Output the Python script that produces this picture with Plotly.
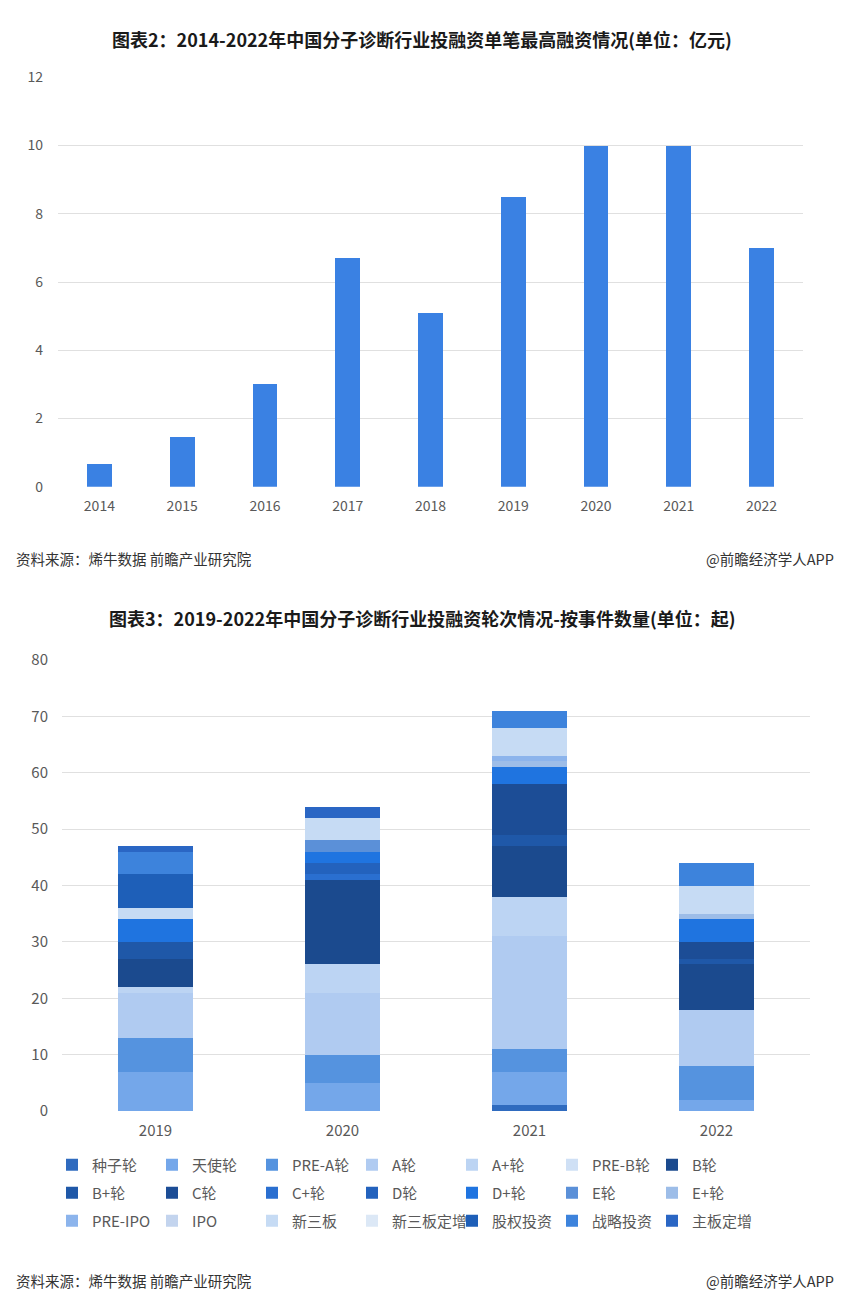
import plotly.graph_objects as go

# ---------------- data ----------------
years1 = ["2014", "2015", "2016", "2017", "2018", "2019", "2020", "2021", "2022"]
max_single = [0.66, 1.45, 3.0, 6.7, 5.1, 8.5, 10, 10, 7.0]

years2 = ["2019", "2020", "2021", "2022"]
rounds = ["种子轮", "天使轮", "PRE-A轮", "A轮", "A+轮", "PRE-B轮", "B轮",
          "B+轮", "C轮", "C+轮", "D轮", "D+轮", "E轮", "E+轮",
          "PRE-IPO", "IPO", "新三板", "新三板定增", "股权投资", "战略投资", "主板定增"]
seed = [0, 0, 1, 0]
angel = [7, 5, 6, 2]
pre_a = [6, 5, 4, 6]
a_round = [8, 11, 20, 10]
a_plus = [1, 5, 7, 0]
pre_b = [0, 0, 0, 0]
b_round = [5, 15, 9, 8]
b_plus = [3, 0, 2, 1]
c_round = [0, 0, 9, 3]
c_plus = [0, 1, 0, 0]
d_round = [0, 2, 0, 0]
d_plus = [4, 2, 3, 4]
e_round = [0, 2, 0, 0]
e_plus = [0, 0, 1, 1]
pre_ipo = [0, 0, 1, 0]
ipo = [0, 0, 0, 0]
neeq = [2, 4, 5, 5]
neeq_private = [0, 0, 0, 0]
equity = [6, 0, 0, 0]
strategic = [4, 0, 3, 4]
main_board = [1, 2, 0, 0]
round_values = [seed, angel, pre_a, a_round, a_plus, pre_b, b_round, b_plus,
                c_round, c_plus, d_round, d_plus, e_round, e_plus, pre_ipo,
                ipo, neeq, neeq_private, equity, strategic, main_board]

# ---------------- styles ----------------
bar1_color = "#3a81e3"
round_colors = ["#2f6bbf", "#74a7ea", "#5593df", "#b0cbf1", "#bcd4f3", "#cfe0f5",
                "#1b4a8e", "#1f58a8", "#1c4d96", "#2a6fd0", "#2362bd", "#1f74e0",
                "#5b90d8", "#9dbde8", "#8cb4ec", "#c3d4ee", "#c6dbf4", "#dce8f6",
                "#1e5fb8", "#3d83dc", "#2a66c4"]

W, H = 850, 1308
ML, MR = 40, 40
PW = W - ML - MR
FONT = "Noto Sans CJK SC"
TICK = "#595959"
GRID = "#e0e0e0"


def px(x):
    return (x - ML) / PW


def py(y):
    return 1 - y / H


fig = go.Figure()

fig.add_trace(go.Bar(
    x=years1, y=max_single, marker=dict(color=bar1_color, line=dict(width=0)),
    width=0.30, xaxis="x", yaxis="y", showlegend=False,
))

legend_ids = ["legend", "legend2", "legend3"]
for i, (name, vals, col) in enumerate(zip(rounds, round_values, round_colors)):
    fig.add_trace(go.Bar(
        x=years2, y=vals, name=name, width=0.40,
        marker=dict(color=col, line=dict(width=0)),
        xaxis="x2", yaxis="y2", legend=legend_ids[i // 7],
    ))

legend_style = dict(orientation="h", x=px(52), xanchor="left", yanchor="middle",
                    traceorder="normal", entrywidth=55, entrywidthmode="pixels",
                    font=dict(size=15, color=TICK, family=FONT),
                    itemclick=False, itemdoubleclick=False,
                    bgcolor="rgba(0,0,0,0)", borderwidth=0)

fig.update_layout(
    width=W, height=H,
    margin=dict(l=ML, r=MR, t=0, b=0, autoexpand=False),
    paper_bgcolor="white", plot_bgcolor="white",
    barmode="stack",
    font=dict(family=FONT, color=TICK),
    xaxis=dict(domain=[px(58), px(803)], anchor="y", type="category",
               tickfont=dict(size=14, color=TICK), showline=False, ticks="",
               ticklabelstandoff=9, showgrid=False, automargin=False),
    yaxis=dict(domain=[py(486.7), py(77.3)], anchor="x", range=[0, 12], dtick=2,
               tickfont=dict(size=14, color=TICK), showgrid=True, gridcolor=GRID,
               gridwidth=1, zeroline=False, showline=False, ticks="",
               ticklabelstandoff=14, automargin=False),
    xaxis2=dict(domain=[px(62), px(810)], anchor="y2", type="category",
                tickfont=dict(size=15, color=TICK), showline=False, ticks="",
                ticklabelstandoff=9, showgrid=False, automargin=False),
    yaxis2=dict(domain=[py(1111), py(660)], anchor="x2", range=[0, 80], dtick=10,
                tickfont=dict(size=15, color=TICK), showgrid=True, gridcolor=GRID,
                gridwidth=1, zeroline=False, showline=False, ticks="",
                ticklabelstandoff=13, automargin=False),
    legend=dict(legend_style, y=py(1165)),
    legend2=dict(legend_style, y=py(1193)),
    legend3=dict(legend_style, y=py(1221)),
    showlegend=True,
)

annotations = [
    dict(text="<b>图表2：2014-2022年中国分子诊断行业投融资单笔最高融资情况(单位：亿元)</b>",
         x=px(422), y=py(39), size=18, color="#1a1a1a", xanchor="center"),
    dict(text="资料来源：烯牛数据 前瞻产业研究院", x=px(14), y=py(558), size=14.5,
         color="#333333", xanchor="left"),
    dict(text="@前瞻经济学人APP", x=px(836), y=py(558), size=14.5,
         color="#333333", xanchor="right"),
    dict(text="<b>图表3：2019-2022年中国分子诊断行业投融资轮次情况-按事件数量(单位：起)</b>",
         x=px(422), y=py(618), size=18, color="#1a1a1a", xanchor="center"),
    dict(text="资料来源：烯牛数据 前瞻产业研究院", x=px(14), y=py(1280), size=14.5,
         color="#333333", xanchor="left"),
    dict(text="@前瞻经济学人APP", x=px(836), y=py(1280), size=14.5,
         color="#333333", xanchor="right"),
]
for a in annotations:
    fig.add_annotation(text=a["text"], x=a["x"], y=a["y"], xref="paper", yref="paper",
                       xanchor=a["xanchor"], yanchor="middle", showarrow=False,
                       font=dict(size=a["size"], color=a["color"], family=FONT))

fig.write_html("out.html")
